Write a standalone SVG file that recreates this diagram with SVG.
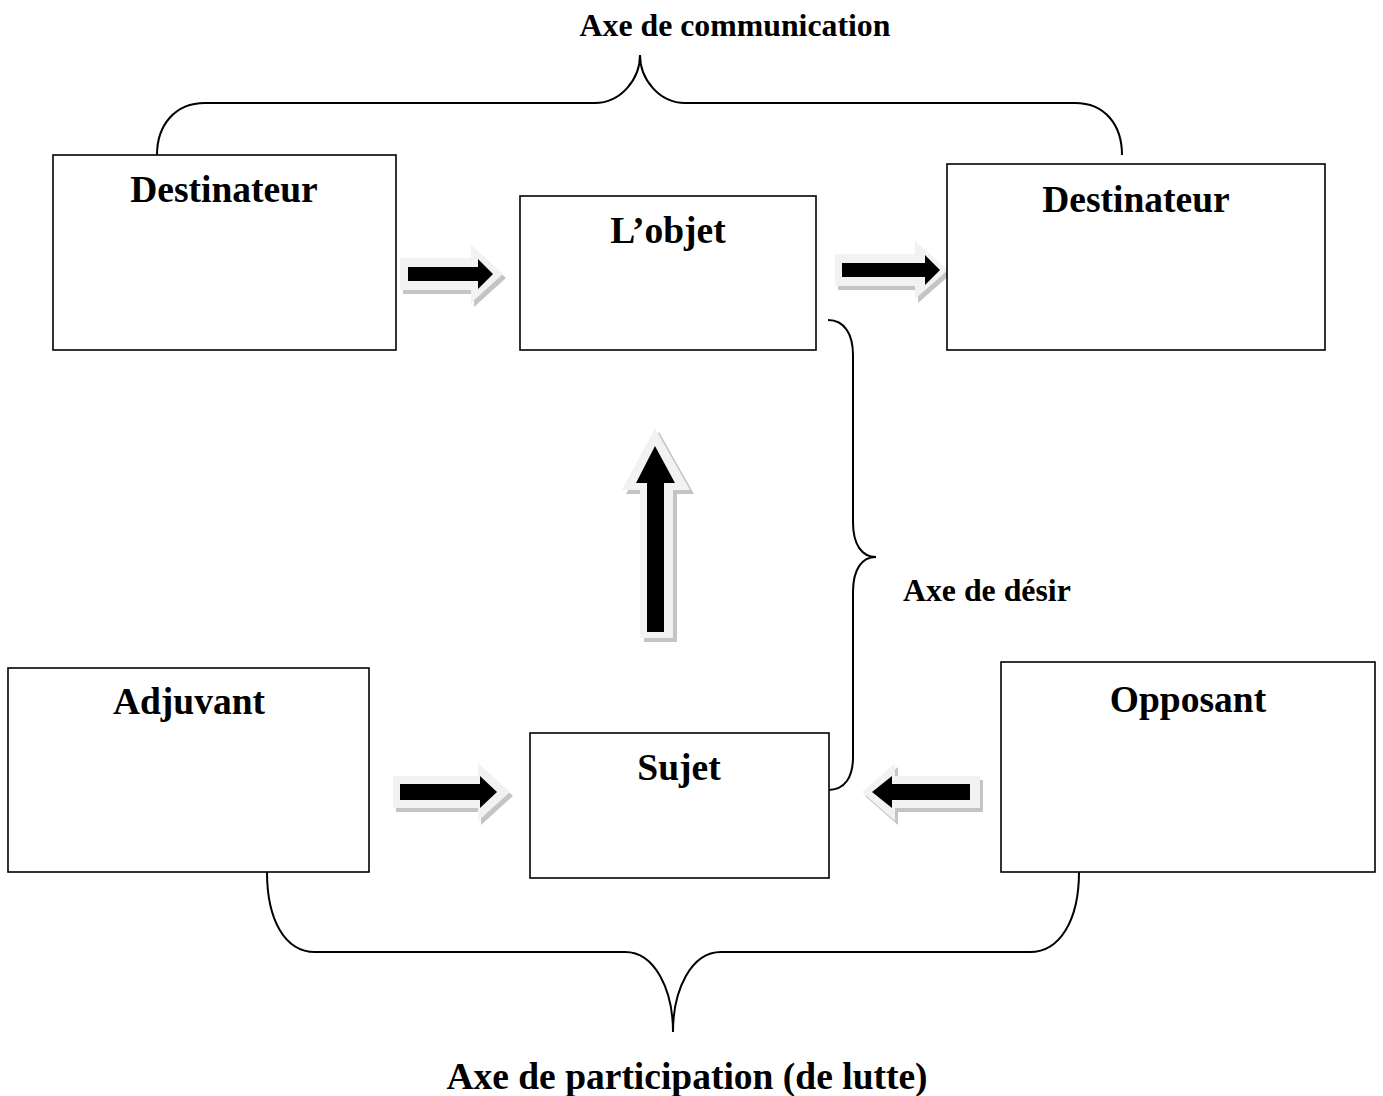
<svg xmlns="http://www.w3.org/2000/svg" width="1383" height="1096" viewBox="0 0 1383 1096">
<style>
.box{fill:#fff;stroke:#000;stroke-width:1.6}
.lbl{font-family:"Liberation Serif","Times New Roman",serif;font-weight:bold;font-size:37.5px;fill:#000}
.axe{font-family:"Liberation Serif","Times New Roman",serif;font-weight:bold;font-size:31.8px;fill:#000}
.axeb{font-family:"Liberation Serif","Times New Roman",serif;font-weight:bold;font-size:37.5px;fill:#000}
.brace{fill:none;stroke:#000;stroke-width:2}
.out{fill:#f2f2f2}
.sh{fill:#c4c4c4}
.blk{fill:#000}
</style>
<rect width="1383" height="1096" fill="#fff"/>
<g id="connectors">
<path class="brace" d="M157,155 C157,125 175,103 205,103 H595 C620,103 640,80 640,55 C640,80 660,103 685,103 H1075 C1105,103 1122,125 1122,155"/>
<path class="brace" d="M828,320 C845,320 853,335 853,355 V522 C853,545 862,557 876,557 C862,557 853,569 853,592 V757 C853,777 845,790 828,790"/>
<path class="brace" d="M267,872 C267,920 285,952 315,952 H625 C655,952 673,990 673,1032 C673,990 691,952 721,952 H1030 C1060,952 1079,920 1079,872"/>
<g id="arrow1">
<path class="sh" transform="translate(3,4)" d="M400,258 H471 V245 L503,274 L471,303 V290 H400 Z"/>
<path class="out" d="M400,258 H471 V245 L503,274 L471,303 V290 H400 Z"/>
<path class="blk" d="M408,267 H478 V259 L493,274 L478,289 V281 H408 Z"/>
</g>
<g id="arrow2">
<path class="sh" transform="translate(3,4)" d="M835,254 H915 V241 L948,270 L915,299 V286 H835 Z"/>
<path class="out" d="M835,254 H915 V241 L948,270 L915,299 V286 H835 Z"/>
<path class="blk" d="M842,263 H925 V255 L940,270 L925,285 V277 H842 Z"/>
</g>
<g id="arrow3">
<path class="sh" transform="translate(3,4)" d="M393,776 H478 V763 L510,792 L478,821 V808 H393 Z"/>
<path class="out" d="M393,776 H478 V763 L510,792 L478,821 V808 H393 Z"/>
<path class="blk" d="M400,784 H480 V776 L497,792 L480,808 V800 H400 Z"/>
</g>
<g id="arrow4">
<path class="sh" transform="translate(3,4)" d="M980,776 H895 V763 L862,792 L895,821 V808 H980 Z"/>
<path class="out" d="M980,776 H895 V763 L862,792 L895,821 V808 H980 Z"/>
<path class="blk" d="M970,784 H892 V776 L872,792 L892,808 V800 H970 Z"/>
</g>
<g id="arrow5">
<path class="sh" transform="translate(4,4)" d="M640,638 V490 H622 L655,428 L690,490 H673 V638 Z"/>
<path class="out" d="M640,638 V490 H622 L655,428 L690,490 H673 V638 Z"/>
<path class="blk" d="M647,632 V483 H636 L655,446 L675,483 H664 V632 Z"/>
</g>
</g>
<g id="destinateur1"><rect class="box" x="53" y="155" width="343" height="195"/><text class="lbl" x="224" y="202" text-anchor="middle">Destinateur</text></g>
<g id="objet"><rect class="box" x="520" y="196" width="296" height="154"/><text class="lbl" x="668" y="243" text-anchor="middle">L’objet</text></g>
<g id="destinateur2"><rect class="box" x="947" y="164" width="378" height="186"/><text class="lbl" x="1136" y="212" text-anchor="middle">Destinateur</text></g>
<g id="adjuvant"><rect class="box" x="8" y="668" width="361" height="204"/><text class="lbl" x="189" y="714" text-anchor="middle">Adjuvant</text></g>
<g id="sujet"><rect class="box" x="530" y="733" width="299" height="145"/><text class="lbl" x="679" y="780" text-anchor="middle">Sujet</text></g>
<g id="opposant"><rect class="box" x="1001" y="662" width="374" height="210"/><text class="lbl" x="1188" y="712" text-anchor="middle">Opposant</text></g>
<g id="labels">
<text class="axe" x="735" y="36" text-anchor="middle">Axe de communication</text>
<text class="axe" x="903" y="601">Axe de désir</text>
<text class="axeb" x="687" y="1089" text-anchor="middle">Axe de participation (de lutte)</text>
</g>
</svg>
